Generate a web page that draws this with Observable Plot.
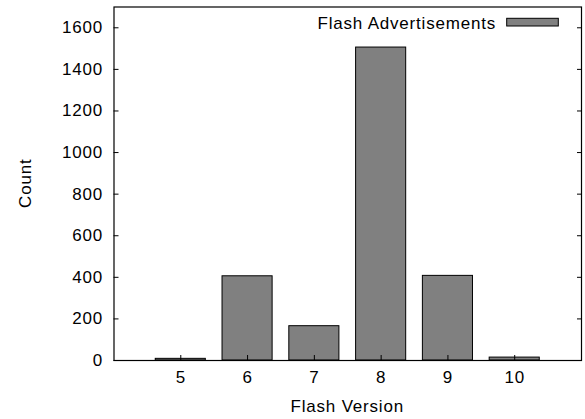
<!DOCTYPE html>
<html>
<head>
<meta charset="utf-8">
<script src="https://cdn.jsdelivr.net/npm/d3@7"></script>
<script src="https://cdn.jsdelivr.net/npm/@observablehq/plot@0.6"></script>
<style>
  html, body { margin: 0; padding: 0; background: #fff; }
  svg { display: block; }
</style>
</head>
<body>
<div id="chart"></div>
<script>
const versions = [5, 6, 7, 8, 9, 10];
const counts = [8, 405, 165, 1505, 407, 14];
const xTicks = [5, 6, 7, 8, 9, 10];
const yTicks = [0, 200, 400, 600, 800, 1000, 1200, 1400, 1600];
const seriesName = "Flash Advertisements";
const xTitle = "Flash Version";
const yTitle = "Count";

const data = versions.map((v, i) => ({version: v, count: counts[i]}));
const barHalf = 0.375;

const W = 585, H = 419;
const mL = 113.5, mR = 4, mT = 6.5, mB = 59;
const ls = "0.8px";

const plot = Plot.plot({
  width: W,
  height: H,
  marginLeft: mL,
  marginRight: mR,
  marginTop: mT,
  marginBottom: mB,
  style: {fontFamily: "'Liberation Sans', Arial, sans-serif", fontSize: "17px", background: "#fff", color: "#000"},
  x: {type: "linear", domain: [4, 11]},
  y: {domain: [0, 1700]},
  marks: [
    Plot.rectY(data, {x1: d => d.version - barHalf, x2: d => d.version + barHalf, y: "count", fill: "#808080", stroke: "#000", strokeWidth: 1}),
    Plot.axisY(yTicks, {anchor: "left", tickSize: 0, tickPadding: 11, tickFormat: d => String(d), label: null, fill: "#000"}),
    Plot.axisY(yTicks, {anchor: "left", tickSize: -5, text: null, label: null, stroke: "#000"}),
    Plot.axisY(yTicks, {anchor: "right", tickSize: -5, text: null, label: null, stroke: "#000"}),
    Plot.axisX(xTicks, {anchor: "bottom", tickSize: 0, tickPadding: 10, tickFormat: d => String(d), label: null, fill: "#000"}),
    Plot.axisX(xTicks, {anchor: "bottom", tickSize: -5, text: null, label: null, stroke: "#000"}),
    Plot.frame({stroke: "#000", strokeWidth: 1.2})
  ]
});

const svg = d3.select(plot);
svg.selectAll("text").style("letter-spacing", ls);

// axis titles
svg.append("text")
  .attr("x", (mL + (W - mR)) / 2)
  .attr("y", 412)
  .attr("text-anchor", "middle")
  .style("letter-spacing", ls)
  .text(xTitle);

svg.append("text")
  .attr("transform", `translate(31, ${(mT + (H - mB)) / 2}) rotate(-90)`)
  .attr("text-anchor", "middle")
  .style("letter-spacing", ls)
  .text(yTitle);

// legend
const lg = svg.append("g");
lg.append("text")
  .attr("x", 496)
  .attr("y", 28.5)
  .attr("text-anchor", "end")
  .style("letter-spacing", ls)
  .text(seriesName);
lg.append("rect")
  .attr("x", 506.7)
  .attr("y", 18.3)
  .attr("width", 51.6)
  .attr("height", 7.7)
  .attr("fill", "#808080")
  .attr("stroke", "#000")
  .attr("stroke-width", 1);

document.getElementById("chart").appendChild(plot);
</script>
</body>
</html>
